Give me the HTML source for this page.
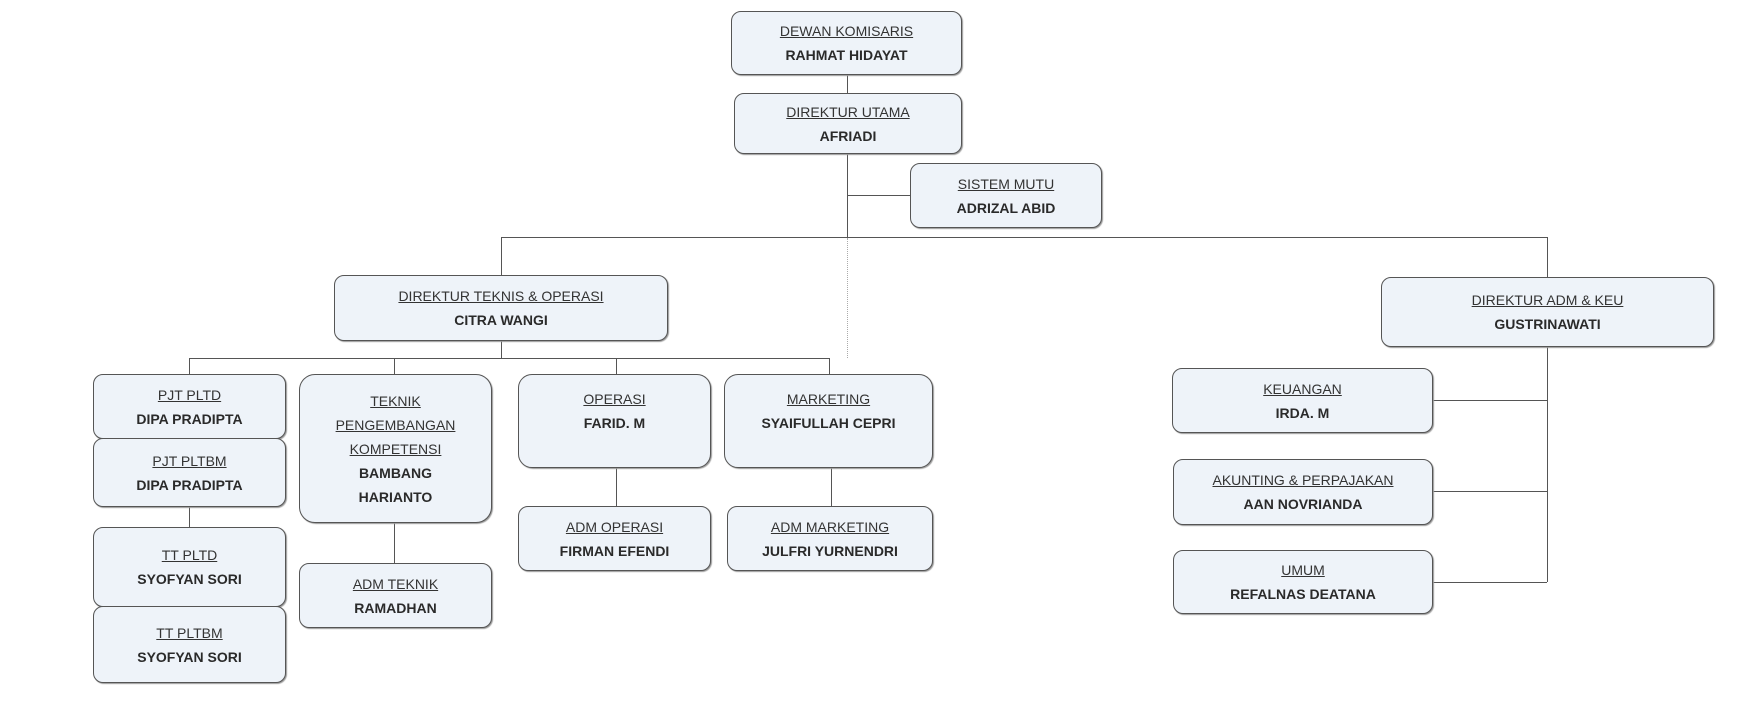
<!DOCTYPE html>
<html><head><meta charset="utf-8"><style>
body{margin:0;width:1753px;height:723px;background:#fff;position:relative;overflow:hidden;font-family:"Liberation Sans",sans-serif;}
.b{position:absolute;box-sizing:border-box;border:1.5px solid #555;border-radius:10px;background:#eef3f9;display:flex;flex-direction:column;align-items:center;justify-content:center;color:#333;font-size:14px;line-height:24px;text-align:center;box-shadow:1px 1px 1px #999;}
.b u{text-decoration:underline;}
.b b{font-weight:bold;color:#2a2a2a;}
.t{justify-content:flex-start;padding-top:12px;}
.l{position:absolute;background:#555;}
.h{height:1px}.v{width:1px}
</style></head><body>
<!-- lines -->
<div class="l v" style="left:847px;top:75px;height:162px"></div>
<div class="l h" style="left:847px;top:195px;width:63px"></div>
<div class="l h" style="left:501px;top:237px;width:1046px"></div>
<div class="l v" style="left:501px;top:237px;height:38px"></div>
<div class="l v" style="left:1547px;top:237px;height:40px"></div>
<div style="position:absolute;left:847px;top:238px;height:120px;border-left:1px dotted #aaa"></div>
<div class="l v" style="left:501px;top:341px;height:17px"></div>
<div class="l h" style="left:189px;top:358px;width:640px"></div>
<div class="l v" style="left:189px;top:358px;height:16px"></div>
<div class="l v" style="left:394px;top:358px;height:16px"></div>
<div class="l v" style="left:616px;top:358px;height:16px"></div>
<div class="l v" style="left:829px;top:358px;height:16px"></div>
<div class="l v" style="left:189px;top:507px;height:20px"></div>
<div class="l v" style="left:394px;top:523px;height:40px"></div>
<div class="l v" style="left:616px;top:468px;height:38px"></div>
<div class="l v" style="left:831px;top:468px;height:38px"></div>
<div class="l v" style="left:1547px;top:347px;height:235px"></div>
<div class="l h" style="left:1433px;top:400px;width:114px"></div>
<div class="l h" style="left:1433px;top:491px;width:114px"></div>
<div class="l h" style="left:1433px;top:582px;width:114px"></div>
<!-- boxes -->
<div class="b" style="left:731px;top:11px;width:231px;height:64px"><u>DEWAN KOMISARIS</u><b>RAHMAT HIDAYAT</b></div>
<div class="b" style="left:734px;top:93px;width:228px;height:61px"><u>DIREKTUR UTAMA</u><b>AFRIADI</b></div>
<div class="b" style="left:910px;top:163px;width:192px;height:65px"><u>SISTEM MUTU</u><b>ADRIZAL ABID</b></div>
<div class="b" style="left:334px;top:275px;width:334px;height:66px"><u>DIREKTUR TEKNIS &amp; OPERASI</u><b>CITRA WANGI</b></div>
<div class="b" style="left:1381px;top:277px;width:333px;height:70px"><u>DIREKTUR ADM &amp; KEU</u><b>GUSTRINAWATI</b></div>
<div class="b" style="left:93px;top:374px;width:193px;height:65px"><u>PJT PLTD</u><b>DIPA PRADIPTA</b></div>
<div class="b" style="left:93px;top:438px;width:193px;height:69px"><u>PJT PLTBM</u><b>DIPA PRADIPTA</b></div>
<div class="b" style="left:93px;top:527px;width:193px;height:80px"><u>TT PLTD</u><b>SYOFYAN SORI</b></div>
<div class="b" style="left:93px;top:606px;width:193px;height:77px"><u>TT PLTBM</u><b>SYOFYAN SORI</b></div>
<div class="b" style="left:299px;top:374px;width:193px;height:149px;border-radius:16px"><u>TEKNIK</u><u>PENGEMBANGAN</u><u>KOMPETENSI</u><b>BAMBANG</b><b>HARIANTO</b></div>
<div class="b" style="left:299px;top:563px;width:193px;height:65px"><u>ADM TEKNIK</u><b>RAMADHAN</b></div>
<div class="b t" style="left:518px;top:374px;width:193px;height:94px;border-radius:14px"><u>OPERASI</u><b>FARID. M</b></div>
<div class="b" style="left:518px;top:506px;width:193px;height:65px"><u>ADM OPERASI</u><b>FIRMAN EFENDI</b></div>
<div class="b t" style="left:724px;top:374px;width:209px;height:94px;border-radius:14px"><u>MARKETING</u><b>SYAIFULLAH CEPRI</b></div>
<div class="b" style="left:727px;top:506px;width:206px;height:65px"><u>ADM MARKETING</u><b>JULFRI YURNENDRI</b></div>
<div class="b" style="left:1172px;top:368px;width:261px;height:65px"><u>KEUANGAN</u><b>IRDA. M</b></div>
<div class="b" style="left:1173px;top:459px;width:260px;height:66px"><u>AKUNTING &amp; PERPAJAKAN</u><b>AAN NOVRIANDA</b></div>
<div class="b" style="left:1173px;top:550px;width:260px;height:64px"><u>UMUM</u><b>REFALNAS DEATANA</b></div>
</body></html>
